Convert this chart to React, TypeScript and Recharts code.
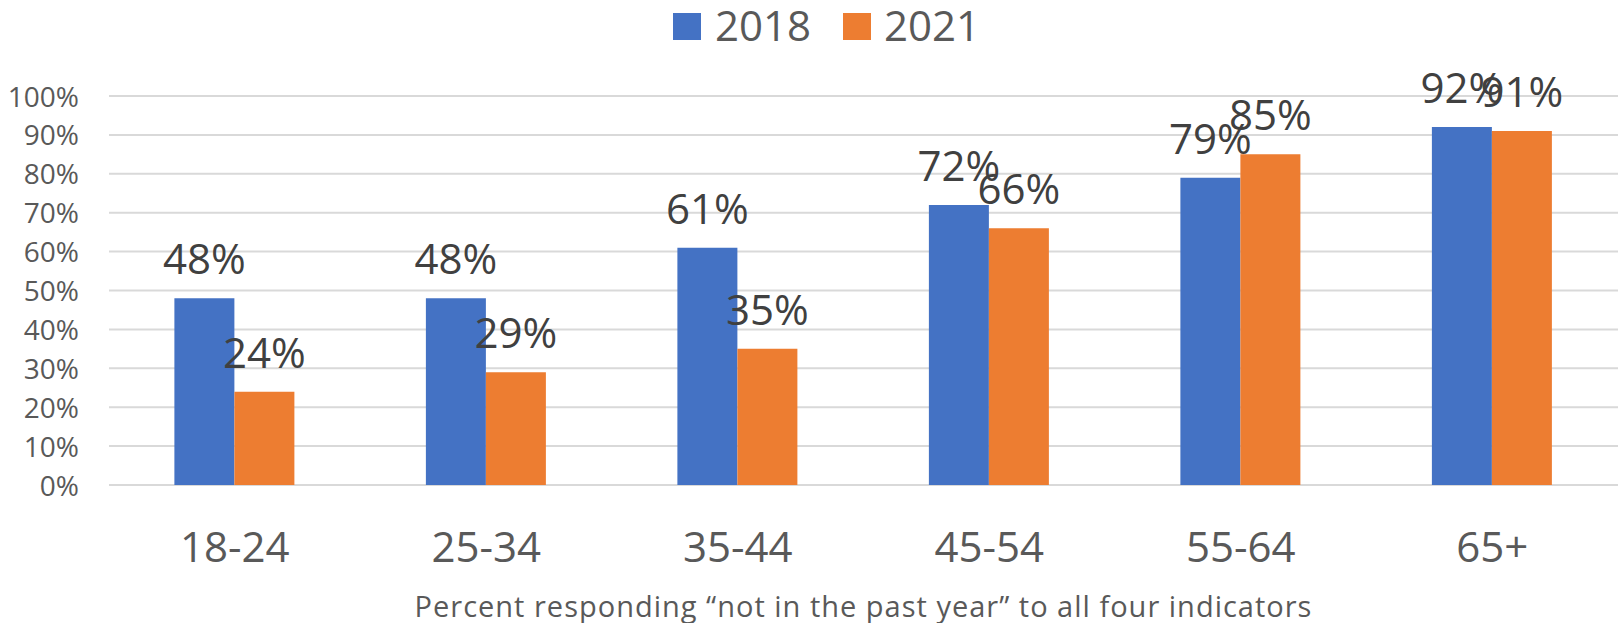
import React from "react";
import {
  BarChart,
  Bar,
  XAxis,
  YAxis,
  CartesianGrid,
  Legend,
  LabelList,
} from "recharts";

const ageGroups = ["18-24", "25-34", "35-44", "45-54", "55-64", "65+"];
const values2018 = [48, 48, 61, 72, 79, 92];
const values2021 = [24, 29, 35, 66, 85, 91];
const yTicks = [0, 10, 20, 30, 40, 50, 60, 70, 80, 90, 100];
const seriesNames = ["2018", "2021"];
const seriesColors = ["#4472C4", "#ED7D31"];
const axisTitle = "Percent responding \u201cnot in the past year\u201d to all four indicators";

const data = ageGroups.map((g, i) => ({
  group: g,
  "2018": values2018[i],
  "2021": values2021[i],
}));

const FONT = "'Open Sans', 'Noto Sans', sans-serif";
const W = 1621;
const H = 623;

function YTick({ x, y, payload }: any) {
  return (
    <text x={x} y={y + 10.5} textAnchor="end" fontSize={28} fontFamily={FONT} fill="#595959">
      {payload.value}%
    </text>
  );
}

function XTick({ x, y, payload }: any) {
  return (
    <text x={x} y={y + 77} textAnchor="middle" fontSize={42} fontFamily={FONT} fill="#595959">
      {payload.value}
    </text>
  );
}

function ValueLabel({ x, y, width, value }: any) {
  return (
    <text
      x={x + width / 2}
      y={y - 24}
      textAnchor="middle"
      fontSize={42}
      fontFamily={FONT}
      fill="#404040"
    >
      {value}%
    </text>
  );
}

function AxisTitle({ viewBox }: any) {
  const { x, y, width, height } = viewBox;
  return (
    <text
      x={x + width / 2}
      y={y + height - 6}
      textAnchor="middle"
      fontSize={29}
      letterSpacing={1}
      fontFamily={FONT}
      fill="#595959"
    >
      {axisTitle}
    </text>
  );
}

function LegendBox() {
  return (
    <svg width={W} height={96} style={{ display: "block" }}>
      {seriesNames.map((name, i) => (
        <g key={name}>
          <rect x={673 + i * 170} y={13} width={28} height={27} fill={seriesColors[i]} />
          <text x={715 + i * 169} y={41} fontSize={42} fontFamily={FONT} fill="#595959">
            {name}
          </text>
        </g>
      ))}
    </svg>
  );
}

export default function App() {
  return (
    <div style={{ position: "absolute", left: 0, top: 0, width: W, height: H, background: "#fff" }}>
      <BarChart
        width={W}
        height={H}
        data={data}
        margin={{ top: 0, right: 3, left: 0, bottom: 0 }}
        barCategoryGap="26%"
        barGap={0}
      >
        <CartesianGrid vertical={false} stroke="#d9d9d9" strokeWidth={2} />
        <Legend
          verticalAlign="top"
          content={<LegendBox />}
          wrapperStyle={{ left: 0, top: 0, width: W, height: 96 }}
        />
        <XAxis
          dataKey="group"
          axisLine={false}
          tickLine={false}
          tickSize={0}
          tickMargin={0}
          height={138}
          tick={<XTick />}
          interval={0}
          label={<AxisTitle />}
        />
        <YAxis
          domain={[0, 100]}
          ticks={yTicks}
          axisLine={false}
          tickLine={false}
          tickSize={0}
          tickMargin={30}
          width={109}
          tick={<YTick />}
          interval={0}
        />
        {seriesNames.map((name, i) => (
          <Bar key={name} dataKey={name} fill={seriesColors[i]} isAnimationActive={false}>
            <LabelList dataKey={name} content={<ValueLabel />} />
          </Bar>
        ))}
      </BarChart>
    </div>
  );
}
